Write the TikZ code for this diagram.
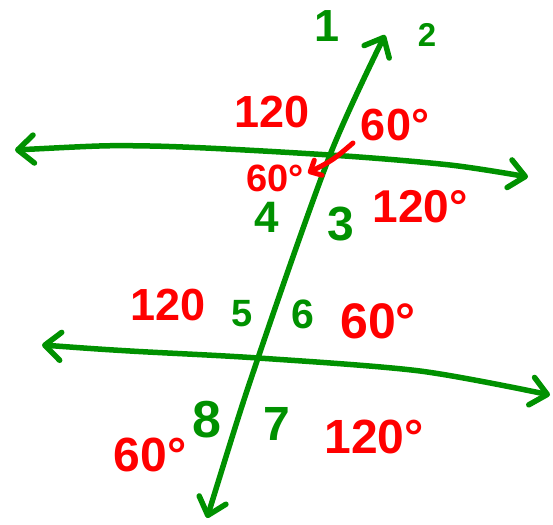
\documentclass[tikz,border=0pt]{standalone}
\usepackage{fontspec}
\setmainfont{Liberation Sans}
\usetikzlibrary{arrows.meta}
\definecolor{grn}{RGB}{0,145,0}
\definecolor{rd}{RGB}{255,0,0}
\tikzset{
  gline/.style={draw=grn, line width=5.5pt, line cap=round, line join=round,
    arrows={Straight Barb[length=16pt,width=28pt,round]-Straight Barb[length=16pt,width=28pt,round]}},
  rline/.style={draw=rd, line width=5pt, line cap=round, line join=round,
    arrows={-Straight Barb[length=9pt,width=17pt,round]}},
  gnum/.style={text=grn, font=\fontsize{#1}{#1}\selectfont\bfseries, anchor=base, inner sep=0pt},
  rnum/.style={text=rd, font=\fontsize{#1}{#1}\selectfont\bfseries, anchor=base, inner sep=0pt},
}
\begin{document}
\begin{tikzpicture}[x=1pt,y=-1pt]
\useasboundingbox (0,0) rectangle (553,524);
% top parallel line
\coordinate (TL) at (15,150);
\coordinate (Ta) at (150,146);
\coordinate (X1) at (330,155);
\coordinate (Tb) at (450,165);
\coordinate (TR) at (528,177);
% bottom parallel line
\coordinate (BL) at (42,345);
\coordinate (Ba) at (130,351);
\coordinate (X2) at (258,358);
\coordinate (Bb) at (420,371);
\coordinate (BR) at (550,395);
% transversal
\coordinate (ST) at (385,35);
\coordinate (SB) at (207,518);
% red arrow
\coordinate (RS) at (353,143);
\coordinate (RE) at (308,173);

\draw[gline] plot[smooth, tension=0.5] coordinates {(TL) (Ta) (X1) (Tb) (TR)};
\draw[gline] plot[smooth, tension=0.5] coordinates {(BL) (Ba) (X2) (Bb) (BR)};
\draw[gline] plot[smooth, tension=0.5] coordinates {(SB) (X2) (X1) (ST)};
\draw[rline] (RS) .. controls (333,160) .. (RE);

% green angle numbers
\node[gnum=45] (g1) at (327,42) {1};
\node[gnum=33] (g2) at (427,47) {2};
\node[gnum=44] (g4) at (267,232) {4};
\node[gnum=48] (g3) at (341,240) {3};
\node[gnum=38] (g5) at (242,326) {5};
\node[gnum=41] (g6) at (303,328) {6};
\node[gnum=52] (g8) at (207,437) {8};
\node[gnum=48] (g7) at (277,440) {7};

% red angle measures
\node[rnum=45] (r1) at (272,127) {120};
\node[rnum=45] (r2) at (395,140) {60°};
\node[rnum=38] (r4) at (275,191) {60°};
\node[rnum=46] (r3) at (420,222) {120°};
\node[rnum=45] (r5) at (168,320) {120};
\node[rnum=50] (r6) at (378,338) {60°};
\node[rnum=48] (r7) at (374,453) {120°};
\node[rnum=48] (r8) at (150,471) {60°};
\end{tikzpicture}
\end{document}
